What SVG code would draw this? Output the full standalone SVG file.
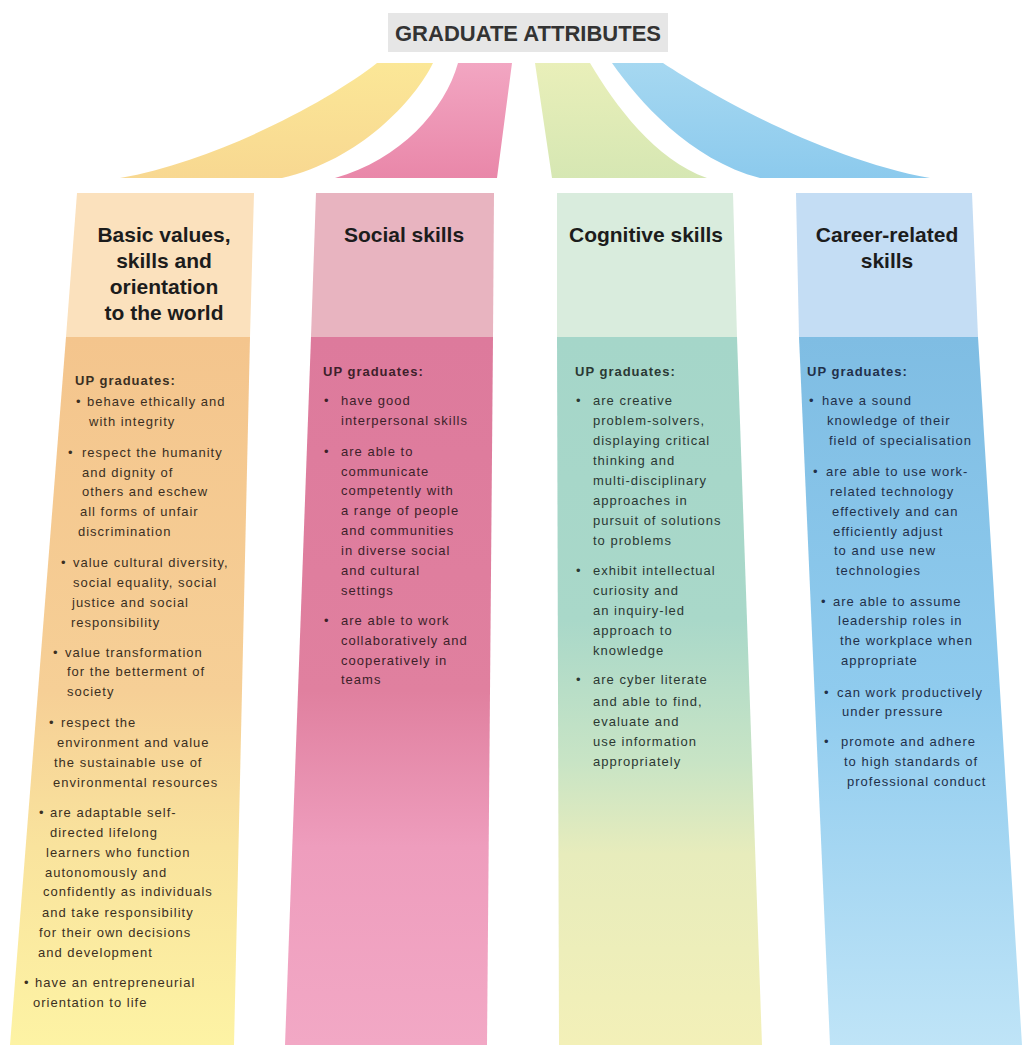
<svg xmlns="http://www.w3.org/2000/svg" width="1022" height="1045" viewBox="0 0 1022 1045">
<style>
.hd{font-family:"Liberation Sans",Arial,sans-serif;font-weight:bold;font-size:21px;fill:#1c1c1c;text-anchor:middle}
.up{font-family:"Liberation Sans",Arial,sans-serif;font-weight:bold;font-size:13px;letter-spacing:1px}
.tx{font-family:"Liberation Sans",Arial,sans-serif;font-size:13px;letter-spacing:1px}
.c1{fill:#3b2f22}.c2{fill:#3d1f2a}.c3{fill:#2b3833}.c4{fill:#22304a}
</style>
<defs>
<linearGradient id="gY" x1="0" y1="0" x2="0" y2="1"><stop offset="0" stop-color="#fbe797"/><stop offset="1" stop-color="#f8d891"/></linearGradient>
<linearGradient id="gP" x1="0" y1="0" x2="0" y2="1"><stop offset="0" stop-color="#f2a6c2"/><stop offset="1" stop-color="#e987a9"/></linearGradient>
<linearGradient id="gG" x1="0" y1="0" x2="0" y2="1"><stop offset="0" stop-color="#e9efb9"/><stop offset="1" stop-color="#d6e7b3"/></linearGradient>
<linearGradient id="gB" x1="0" y1="0" x2="0" y2="1"><stop offset="0" stop-color="#a6d8f1"/><stop offset="1" stop-color="#8ccaed"/></linearGradient>
<linearGradient id="b1" gradientUnits="userSpaceOnUse" x1="0" y1="337" x2="0" y2="1045"><stop offset="0" stop-color="#f4c58d"/><stop offset="0.5" stop-color="#f6cf96"/><stop offset="0.72" stop-color="#f9e39d"/><stop offset="1" stop-color="#fdf3a4"/></linearGradient>
<linearGradient id="b2" gradientUnits="userSpaceOnUse" x1="0" y1="337" x2="0" y2="1045"><stop offset="0" stop-color="#dd7a9c"/><stop offset="0.5" stop-color="#e0809f"/><stop offset="0.72" stop-color="#ee9dbd"/><stop offset="1" stop-color="#f2a8c5"/></linearGradient>
<linearGradient id="b3" gradientUnits="userSpaceOnUse" x1="0" y1="337" x2="0" y2="1045"><stop offset="0" stop-color="#a5d6c9"/><stop offset="0.4" stop-color="#a9d8c9"/><stop offset="0.6" stop-color="#c8e4c5"/><stop offset="0.73" stop-color="#e7ecbc"/><stop offset="1" stop-color="#f3f0b8"/></linearGradient>
<linearGradient id="b4" gradientUnits="userSpaceOnUse" x1="0" y1="337" x2="0" y2="1045"><stop offset="0" stop-color="#7fbde3"/><stop offset="0.5" stop-color="#8fcbee"/><stop offset="1" stop-color="#bfe4f7"/></linearGradient>
</defs>
<rect width="1022" height="1045" fill="#ffffff"/>
<g id="title">
<rect x="388" y="13" width="280" height="39" fill="#e6e6e6"/>
<text x="528" y="41" text-anchor="middle" font-family="'Liberation Sans',Arial,sans-serif" font-weight="bold" font-size="22" fill="#333333" textLength="266" lengthAdjust="spacingAndGlyphs">GRADUATE ATTRIBUTES</text>
</g>
<g id="connectors">
<path d="M377,63 L433,63 C415,100 360,160 282,178 L120,178 C220,160 330,100 377,63 Z" fill="url(#gY)"/>
<path d="M458,63 L512,63 L497,178 L335,178 C400,160 445,110 458,63 Z" fill="url(#gP)"/>
<path d="M535,63 L590,63 C615,105 655,160 707,178 L552,178 Z" fill="url(#gG)"/>
<path d="M612,63 L663,63 C719,100 829,160 930,178 L760,178 C690,160 638,100 612,63 Z" fill="url(#gB)"/>
</g>
<g id="col1">
<polygon points="77,193 254,193 250,337 66,337" fill="#fbe1bd"/>
<polygon points="66,337 250,337 234,1045 10,1045" fill="url(#b1)"/>
<text class="hd" x="164" y="242">Basic values,</text>
<text class="hd" x="164" y="268">skills and</text>
<text class="hd" x="164" y="294">orientation</text>
<text class="hd" x="164" y="320">to the world</text>
<g class="c1">
<text class="up" x="75" y="385">UP graduates:</text>
<text class="tx" x="76" y="406">•</text><text class="tx" x="87" y="406">behave ethically and</text>
<text class="tx" x="89" y="426">with integrity</text>
<text class="tx" x="68" y="457">•</text><text class="tx" x="82" y="457">respect the humanity</text>
<text class="tx" x="82" y="477">and dignity of</text>
<text class="tx" x="82" y="496">others and eschew</text>
<text class="tx" x="80" y="516">all forms of unfair</text>
<text class="tx" x="78" y="536">discrimination</text>
<text class="tx" x="61" y="567">•</text><text class="tx" x="73" y="567">value cultural diversity,</text>
<text class="tx" x="73" y="587">social equality, social</text>
<text class="tx" x="72" y="607">justice and social</text>
<text class="tx" x="71" y="627">responsibility</text>
<text class="tx" x="53" y="657">•</text><text class="tx" x="65" y="657">value transformation</text>
<text class="tx" x="67" y="676">for the betterment of</text>
<text class="tx" x="67" y="696">society</text>
<text class="tx" x="49" y="727">•</text><text class="tx" x="61" y="727">respect the</text>
<text class="tx" x="57" y="747">environment and value</text>
<text class="tx" x="54" y="767">the sustainable use of</text>
<text class="tx" x="53" y="787">environmental resources</text>
<text class="tx" x="39" y="817">•</text><text class="tx" x="50" y="817">are adaptable self-</text>
<text class="tx" x="50" y="837">directed lifelong</text>
<text class="tx" x="46" y="857">learners who function</text>
<text class="tx" x="45" y="877">autonomously and</text>
<text class="tx" x="43" y="896">confidently as individuals</text>
<text class="tx" x="42" y="917">and take responsibility</text>
<text class="tx" x="39" y="937">for their own decisions</text>
<text class="tx" x="38" y="957">and development</text>
<text class="tx" x="24" y="987">•</text><text class="tx" x="35" y="987">have an entrepreneurial</text>
<text class="tx" x="33" y="1007">orientation to life</text>
</g>
</g>
<g id="col2">
<polygon points="316,193 494,193 493,337 311,337" fill="#e8b4c0"/>
<polygon points="311,337 493,337 487,1045 285,1045" fill="url(#b2)"/>
<text class="hd" x="404" y="242">Social skills</text>
<g class="c2">
<text class="up" x="323" y="376">UP graduates:</text>
<text class="tx" x="324" y="405">•</text><text class="tx" x="341" y="405">have good</text>
<text class="tx" x="341" y="425">interpersonal skills</text>
<text class="tx" x="324" y="456">•</text><text class="tx" x="341" y="456">are able to</text>
<text class="tx" x="341" y="476">communicate</text>
<text class="tx" x="341" y="495">competently with</text>
<text class="tx" x="341" y="515">a range of people</text>
<text class="tx" x="341" y="535">and communities</text>
<text class="tx" x="341" y="555">in diverse social</text>
<text class="tx" x="341" y="575">and cultural</text>
<text class="tx" x="341" y="595">settings</text>
<text class="tx" x="324" y="625">•</text><text class="tx" x="341" y="625">are able to work</text>
<text class="tx" x="341" y="645">collaboratively and</text>
<text class="tx" x="341" y="665">cooperatively in</text>
<text class="tx" x="341" y="684">teams</text>
</g>
</g>
<g id="col3">
<polygon points="557,193 733,193 737,337 557,337" fill="#d9ecdd"/>
<polygon points="557,337 737,337 762,1045 559,1045" fill="url(#b3)"/>
<text class="hd" x="646" y="242">Cognitive skills</text>
<g class="c3">
<text class="up" x="575" y="376">UP graduates:</text>
<text class="tx" x="576" y="405">•</text><text class="tx" x="593" y="405">are creative</text>
<text class="tx" x="593" y="425">problem-solvers,</text>
<text class="tx" x="593" y="445">displaying critical</text>
<text class="tx" x="593" y="465">thinking and</text>
<text class="tx" x="593" y="485">multi-disciplinary</text>
<text class="tx" x="593" y="505">approaches in</text>
<text class="tx" x="593" y="525">pursuit of solutions</text>
<text class="tx" x="593" y="545">to problems</text>
<text class="tx" x="576" y="575">•</text><text class="tx" x="593" y="575">exhibit intellectual</text>
<text class="tx" x="593" y="595">curiosity and</text>
<text class="tx" x="593" y="615">an inquiry-led</text>
<text class="tx" x="593" y="635">approach to</text>
<text class="tx" x="593" y="655">knowledge</text>
<text class="tx" x="576" y="684">•</text><text class="tx" x="593" y="684">are cyber literate</text>
<text class="tx" x="593" y="706">and able to find,</text>
<text class="tx" x="593" y="726">evaluate and</text>
<text class="tx" x="593" y="746">use information</text>
<text class="tx" x="593" y="766">appropriately</text>
</g>
</g>
<g id="col4">
<polygon points="796,193 972,193 978,337 799,337" fill="#c4ddf4"/>
<polygon points="799,337 978,337 1022,1045 830,1045" fill="url(#b4)"/>
<text class="hd" x="887" y="242">Career-related</text>
<text class="hd" x="887" y="268">skills</text>
<g class="c4">
<text class="up" x="807" y="376">UP graduates:</text>
<text class="tx" x="809" y="405">•</text><text class="tx" x="822" y="405">have a sound</text>
<text class="tx" x="827" y="425">knowledge of their</text>
<text class="tx" x="829" y="445">field of specialisation</text>
<text class="tx" x="813" y="476">•</text><text class="tx" x="826" y="476">are able to use work-</text>
<text class="tx" x="830" y="496">related technology</text>
<text class="tx" x="832" y="516">effectively and can</text>
<text class="tx" x="833" y="536">efficiently adjust</text>
<text class="tx" x="834" y="555">to and use new</text>
<text class="tx" x="836" y="575">technologies</text>
<text class="tx" x="821" y="606">•</text><text class="tx" x="833" y="606">are able to assume</text>
<text class="tx" x="838" y="625">leadership roles in</text>
<text class="tx" x="840" y="645">the workplace when</text>
<text class="tx" x="841" y="665">appropriate</text>
<text class="tx" x="824" y="697">•</text><text class="tx" x="837" y="697">can work productively</text>
<text class="tx" x="842" y="716">under pressure</text>
<text class="tx" x="824" y="746">•</text><text class="tx" x="841" y="746">promote and adhere</text>
<text class="tx" x="844" y="766">to high standards of</text>
<text class="tx" x="847" y="786">professional conduct</text>
</g>
</g>
</svg>
